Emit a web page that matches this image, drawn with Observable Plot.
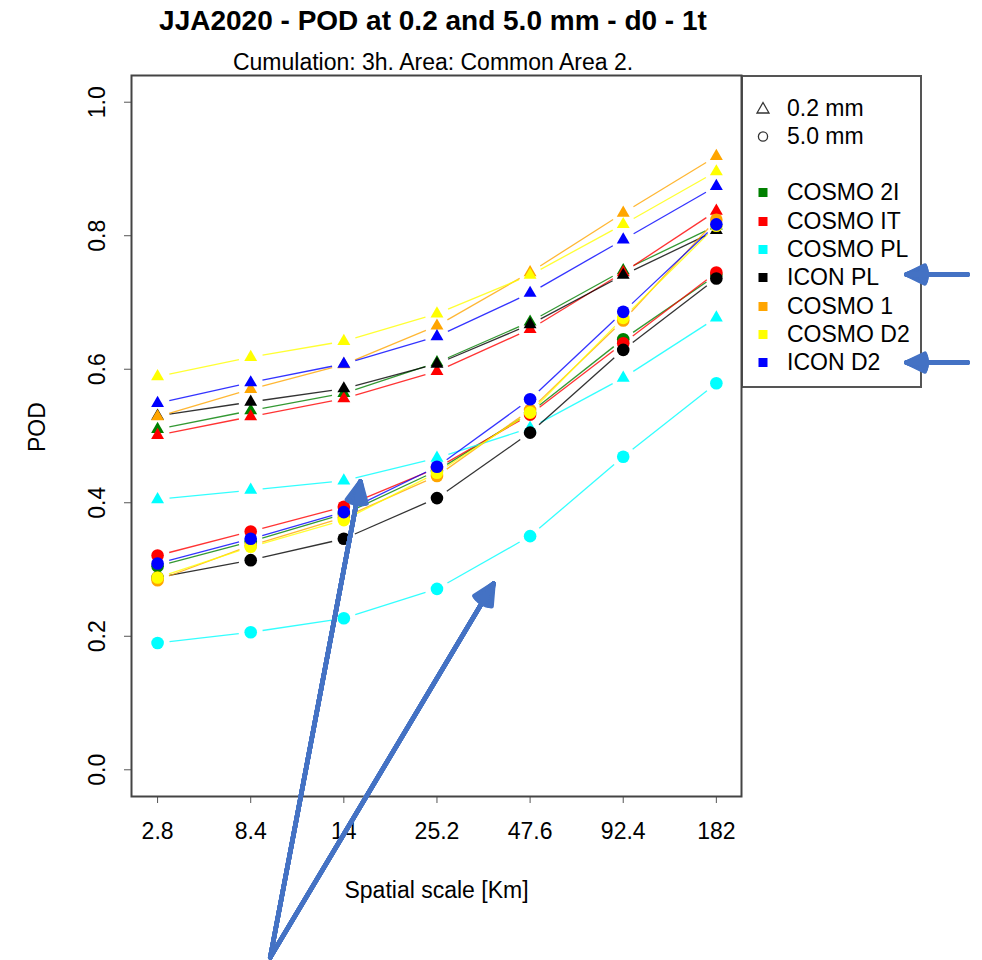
<!DOCTYPE html>
<html>
<head>
<meta charset="utf-8">
<script src="https://cdn.jsdelivr.net/npm/d3@7"></script>
<script src="https://cdn.jsdelivr.net/npm/@observablehq/plot@0.6"></script>
<style>
  html, body { margin: 0; padding: 0; background: #fff; }
  body { font-family: "Liberation Sans", Arial, Helvetica, sans-serif; color: #000; }
  #wrap { position: relative; width: 982px; height: 960px; overflow: hidden; }
  #header { position: relative; height: 74px; }
  #title { position: absolute; left: 133px; width: 600px; top: 4px; text-align: center;
           font-weight: bold; font-size: 28px; line-height: 34px; white-space: nowrap; }
  #subtitle { position: absolute; left: 133px; width: 600px; top: 49px; text-align: center;
           font-size: 23px; line-height: 26px; white-space: nowrap; }
  #legend { position: absolute; left: 741px; top: 75px; width: 177px; height: 309px;
            border: 2px solid #555; z-index: 1; background: transparent; }
  .lrow { position: absolute; left: 0; height: 28px; line-height: 28px; font-size: 23px; white-space: nowrap; }
  .lrow svg { position: absolute; left: 12px; top: 7px; }
  .lrow span { position: absolute; left: 44px; top: 0; }
  #chart { position: relative; z-index: 2; }
  #chart svg { background: transparent; }
</style>
</head>
<body>
<div id="wrap">
  <div id="header">
    <div id="title">JJA2020 - POD at 0.2 and 5.0 mm - d0 - 1t</div>
    <div id="subtitle">Cumulation: 3h. Area: Common Area 2.</div>
  </div>
  <div id="legend"></div>
  <div id="chart"></div>
</div>
<script>
// ---------- data ----------
const scaleLabels = ["2.8", "8.4", "14", "25.2", "47.6", "92.4", "182"];
const models = ["COSMO 2I", "COSMO IT", "COSMO PL", "ICON PL", "COSMO 1", "COSMO D2", "ICON D2"];
const modelColors = ["#008000", "#ff0000", "#00ffff", "#000000", "#ffa500", "#ffff00", "#0000ff"];
const thresholds = ["0.2 mm", "5.0 mm"];
const yTicks = [0, 0.2, 0.4, 0.6, 0.8, 1.0];

// POD at 0.2 mm (triangles), one row per model, in the order of `models`
const pod02 = [
  [0.510, 0.538, 0.564, 0.610, 0.671, 0.748, 0.815],
  [0.501, 0.529, 0.556, 0.597, 0.660, 0.745, 0.837],
  [0.405, 0.419, 0.433, 0.467, 0.512, 0.587, 0.677],
  [0.530, 0.551, 0.571, 0.608, 0.667, 0.741, 0.808],
  [0.529, 0.570, 0.607, 0.665, 0.745, 0.834, 0.919],
  [0.589, 0.618, 0.642, 0.683, 0.741, 0.817, 0.896],
  [0.549, 0.580, 0.608, 0.649, 0.714, 0.794, 0.874]
];
// POD at 5.0 mm (circles)
const pod50 = [
  [0.305, 0.342, 0.383, 0.448, 0.535, 0.645, 0.741],
  [0.321, 0.357, 0.394, 0.452, 0.532, 0.639, 0.745],
  [0.190, 0.206, 0.227, 0.271, 0.350, 0.469, 0.579],
  [0.288, 0.314, 0.346, 0.407, 0.505, 0.629, 0.736],
  [0.284, 0.336, 0.378, 0.440, 0.539, 0.673, 0.824],
  [0.288, 0.334, 0.374, 0.445, 0.535, 0.677, 0.815],
  [0.309, 0.346, 0.386, 0.454, 0.555, 0.686, 0.817]
];

// annotation arrows (data coordinates: x = scale index, y = POD)
const annotArrows = [
  {x1: 1.21, y1: -0.281, x2: 2.179, y2: 0.432},
  {x1: 1.21, y1: -0.281, x2: 3.607, y2: 0.279},
  {x1: 8.697, y1: 0.742, x2: 8.042, y2: 0.742},
  {x1: 8.697, y1: 0.610, x2: 8.042, y2: 0.610}
];

// ---------- layout ----------
const W = 982, H = 886, ML = 131, MR = 241, MT = 1, MB = 164;
const xDomain = [-0.28, 6.27], yDomain = [-0.04, 1.04];
// helper scales (same as the plot's) used only to leave R-style gaps around points
const sx = d3.scaleLinear(xDomain, [ML, W - MR]);
const sy = d3.scaleLinear(yDomain, [H - MB, MT]);
const GAP = 12;

// ---------- derived tables ----------
const series = [pod02, pod50];
const points = [];
const segs = [];
models.forEach((m, mi) => {
  series.forEach((arr, ti) => {
    arr[mi].forEach((v, i, a) => {
      points.push({model: m, thr: thresholds[ti], i, v});
      if (i < a.length - 1) {
        const px1 = sx(i), py1 = sy(v), px2 = sx(i + 1), py2 = sy(a[i + 1]);
        const len = Math.hypot(px2 - px1, py2 - py1);
        const ux = (px2 - px1) / len, uy = (py2 - py1) / len;
        segs.push({
          model: m, thr: thresholds[ti],
          x1: sx.invert(px1 + ux * GAP), y1: sy.invert(py1 + uy * GAP),
          x2: sx.invert(px2 - ux * GAP), y2: sy.invert(py2 - uy * GAP)
        });
      }
    });
  });
});

const marks = [];
marks.push(Plot.axisY({ticks: yTicks, tickSize: 7, tickFormat: () => "", stroke: "#555", label: null}));
marks.push(Plot.axisX({ticks: d3.range(scaleLabels.length), tickSize: 7, tickFormat: () => "", stroke: "#555", label: null}));
marks.push(Plot.text(yTicks, {y: d => d, text: d => d.toFixed(1), frameAnchor: "left", dx: -34, rotate: -90, textAnchor: "middle", fontSize: 23}));
marks.push(Plot.text(scaleLabels, {x: (d, i) => i, text: d => d, frameAnchor: "bottom", dy: 42, fontSize: 23}));
marks.push(Plot.text(["Spatial scale [Km]"], {frameAnchor: "bottom", dy: 101, fontSize: 23}));
marks.push(Plot.text(["POD"], {frameAnchor: "left", dx: -94, dy: 16, rotate: -90, fontSize: 23}));

models.forEach(m => {
  marks.push(Plot.link(segs.filter(d => d.model === m), {
    x1: "x1", y1: "y1", x2: "x2", y2: "y2", stroke: "model",
    strokeWidth: 1.3, strokeOpacity: 0.8
  }));
  marks.push(Plot.dot(points.filter(d => d.model === m), {
    x: "i", y: "v", fill: "model", symbol: "thr",
    r: d => d.thr === "0.2 mm" ? 4.8 : 6.3, stroke: "none"
  }));
});

marks.push(Plot.frame({stroke: "#444", strokeWidth: 2}));

// filled-looking arrowheads: a fan of chevrons sharing the tip
[52, 44, 36, 28, 20, 12, 4].forEach(a => {
  marks.push(Plot.arrow(annotArrows, {
    x1: "x1", y1: "y1", x2: "x2", y2: "y2",
    stroke: "#4472c4", strokeWidth: 4.5, headLength: 7.6, headAngle: a
  }));
});

const chart = Plot.plot({
  width: W,
  height: H,
  marginLeft: ML,
  marginRight: MR,
  marginTop: MT,
  marginBottom: MB,
  style: {fontFamily: "'Liberation Sans', Arial, Helvetica, sans-serif", fontSize: "23px", background: "transparent", color: "#000"},
  x: {type: "linear", domain: xDomain, label: null},
  y: {type: "linear", domain: yDomain, label: null},
  color: {type: "ordinal", domain: models, range: modelColors},
  symbol: {domain: thresholds, range: ["triangle", "circle"]},
  r: {type: "identity"},
  marks
});
document.getElementById("chart").appendChild(chart);

// ---------- legend ----------
const legend = document.getElementById("legend");
const rowStep = 28.3;
const firstCy = 30.5;
function addRow(k, iconSvg, label) {
  const row = document.createElement("div");
  row.className = "lrow";
  row.style.top = (firstCy + k * rowStep - 14) + "px";
  row.innerHTML = iconSvg + "<span>" + label + "</span>";
  legend.appendChild(row);
}
addRow(0, '<svg width="16" height="14"><polygon points="8,1.5 14,12 2,12" fill="none" stroke="#333" stroke-width="1.3"/></svg>', thresholds[0]);
addRow(1, '<svg width="16" height="14"><circle cx="8" cy="7.5" r="4.6" fill="none" stroke="#333" stroke-width="1.3"/></svg>', thresholds[1]);
models.forEach((m, k) => {
  addRow(k + 3, '<svg width="16" height="14"><rect x="3.5" y="3" width="9" height="9" fill="' + modelColors[k] + '"/></svg>', m);
});
</script>
</body>
</html>
